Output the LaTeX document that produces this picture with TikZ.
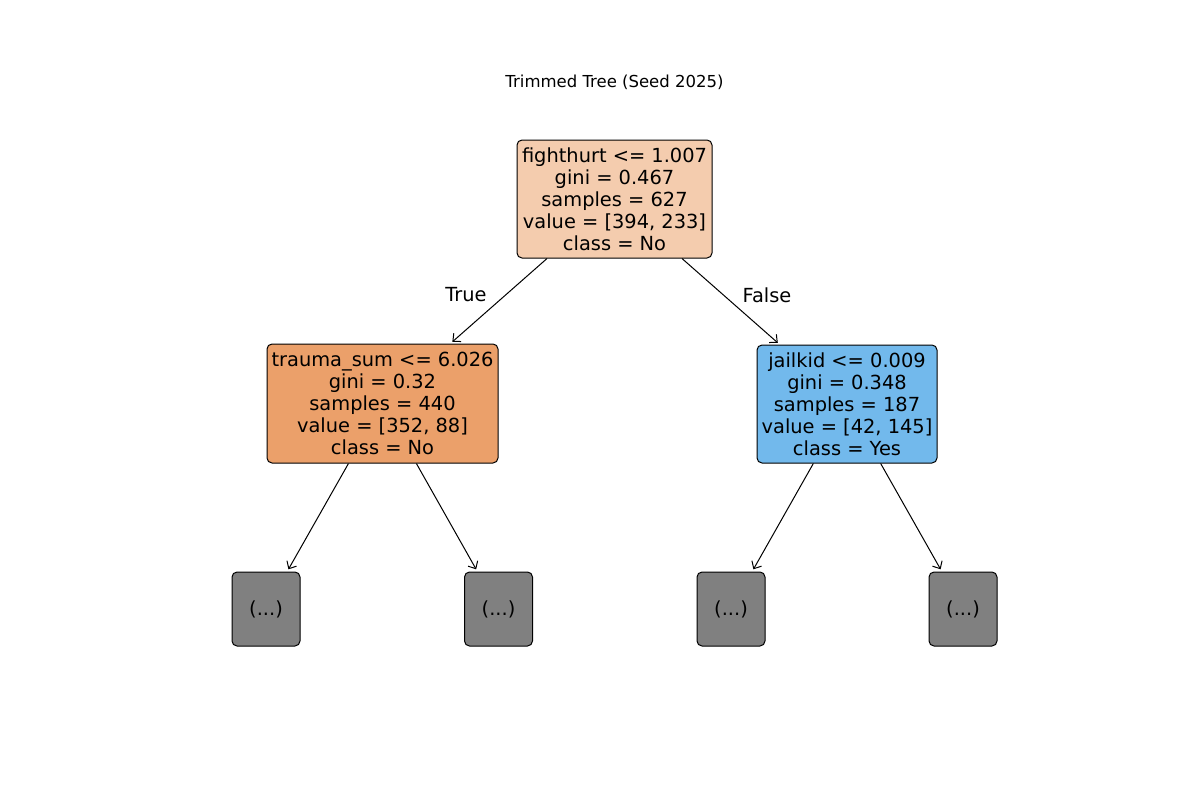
\documentclass[tikz,border=0pt]{standalone}
\usepackage{fontspec}
\setmainfont{DejaVu Sans}
\usetikzlibrary{arrows.meta}
\definecolor{rootc}{HTML}{F4CCAE}
\definecolor{leftc}{HTML}{EBA06A}
\definecolor{rightc}{HTML}{72B9EC}
\definecolor{leafc}{HTML}{808080}
\tikzset{
  treebox/.style={draw=black, line width=1pt, rounded corners=5pt, inner sep=0pt,
    align=center, font=\fontsize{19.4}{22}\selectfont},
  leafbox/.style={treebox, fill=leafc, minimum width=68pt, minimum height=74pt},
  edge/.style={line width=1pt, -{Straight Barb[length=6pt,width=11pt]}, shorten >=2.5pt},
  lbl/.style={font=\fontsize{19.4}{22}\selectfont}
}
\begin{document}
\begin{tikzpicture}[x=1pt,y=-1pt]
\useasboundingbox (0,0) rectangle (1200,800);
\node[font=\fontsize{16.5}{20}\selectfont] (title) at (614.5,82) {Trimmed Tree (Seed 2025)};
\node[treebox, fill=rootc, minimum width=195pt, minimum height=118pt] (root) at (614.5,199)
  {fighthurt <= 1.007\\gini = 0.467\\samples = 627\\value = [394, 233]\\class = No};
\node[treebox, fill=leftc, minimum width=231pt, minimum height=119pt] (left) at (382.5,403.5)
  {trauma\_sum <= 6.026\\gini = 0.32\\samples = 440\\value = [352, 88]\\class = No};
\node[treebox, fill=rightc, minimum width=180pt, minimum height=118pt] (right) at (847,404)
  {jailkid <= 0.009\\gini = 0.348\\samples = 187\\value = [42, 145]\\class = Yes};
\node[leafbox] (l1) at (266,609) {(...)};
\node[leafbox] (l2) at (498.5,609) {(...)};
\node[leafbox] (l3) at (731,609) {(...)};
\node[leafbox] (l4) at (963,609) {(...)};
\draw[edge] (root) -- (left);
\draw[edge] (root) -- (right);
\draw[edge] (left) -- (l1);
\draw[edge] (left) -- (l2);
\draw[edge] (right) -- (l3);
\draw[edge] (right) -- (l4);
\node[lbl] (t) at (466,295) {True};
\node[lbl] (f) at (767,295) {False};
\end{tikzpicture}
\end{document}
